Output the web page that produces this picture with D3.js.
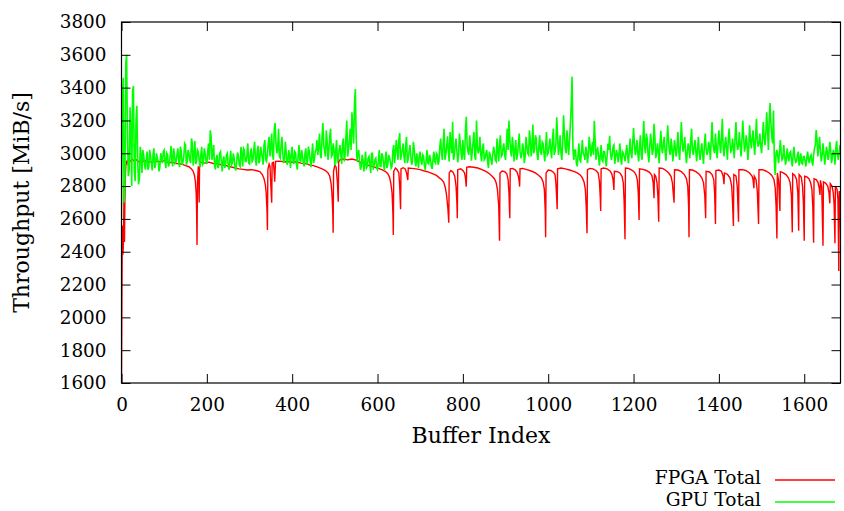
<!DOCTYPE html>
<html>
<head>
<meta charset="utf-8">
<script src="https://cdn.jsdelivr.net/npm/d3@7"></script>
<style>
  body { margin: 0; background: #fff; }
  text { font-family: "DejaVu Serif", serif; fill: #000; }
</style>
</head>
<body>
<div id="chart"></div>
<script>
// FPGA throughput (buffer index, MiB/s)
const fpgaIndex = [
  0, 1, 2, 3, 4, 5, 6, 7, 8, 9, 10, 12, 14, 16, 20, 25, 30, 35, 40, 45, 50, 60, 70, 80, 90, 100,
  110, 120, 130, 140, 150, 158, 164, 168, 171, 173, 175, 176, 177, 178, 180, 181, 182, 183, 186,
  195, 205, 215, 225, 235, 245, 255, 265, 275, 285, 295, 305, 315, 324, 330, 334, 337, 339, 341,
  342, 343, 346, 348, 350, 352, 353, 356, 358, 359, 361, 370, 380, 390, 400, 410, 420, 430, 440,
  450, 460, 470, 478, 484, 488, 491, 493, 495, 496, 497, 500, 503, 506, 508, 509, 513, 520, 530,
  540, 550, 560, 570, 580, 590, 600, 610, 618, 624, 628, 631, 634, 636, 637, 638, 642, 646, 650,
  652, 654, 655, 660, 665, 668, 670, 671, 672, 680, 690, 700, 710, 720, 730, 738, 745, 750, 755,
  759, 762, 765, 767, 768, 772, 777, 781, 784, 786, 787, 788, 795, 800, 804, 806, 808, 809, 815,
  825, 835, 845, 855, 862, 868, 874, 878, 881, 884, 886, 887, 892, 898, 903, 906, 908, 910, 911,
  916, 922, 927, 930, 932, 933, 934, 940, 950, 960, 970, 978, 984, 988, 991, 993, 994, 995, 1000,
  1006, 1012, 1016, 1018, 1020, 1021, 1022, 1030, 1040, 1050, 1060, 1068, 1075, 1080, 1084, 1087,
  1089, 1091, 1092, 1098, 1105, 1112, 1117, 1120, 1122, 1123, 1124, 1130, 1138, 1145, 1149, 1152,
  1154, 1155, 1162, 1168, 1173, 1176, 1178, 1180, 1181, 1188, 1196, 1202, 1206, 1209, 1211, 1213,
  1214, 1222, 1230, 1238, 1243, 1246, 1248, 1249, 1252, 1255, 1257, 1259, 1260, 1268, 1276, 1283,
  1288, 1291, 1293, 1295, 1296, 1304, 1312, 1319, 1324, 1327, 1329, 1330, 1331, 1338, 1346, 1354,
  1360, 1364, 1367, 1369, 1370, 1378, 1384, 1388, 1390, 1392, 1393, 1400, 1406, 1410, 1412, 1413,
  1420, 1426, 1430, 1432, 1434, 1435, 1440, 1443, 1446, 1447, 1455, 1463, 1472, 1478, 1480, 1482,
  1483, 1487, 1490, 1493, 1494, 1502, 1510, 1518, 1524, 1529, 1532, 1534, 1536, 1537, 1540, 1543,
  1544, 1550, 1557, 1563, 1567, 1570, 1572, 1573, 1578, 1582, 1585, 1587, 1588, 1593, 1596, 1598,
  1600, 1601, 1606, 1611, 1615, 1618, 1620, 1622, 1623, 1628, 1632, 1635, 1637, 1638, 1641, 1644,
  1645, 1650, 1655, 1658, 1660, 1661, 1665, 1668, 1670, 1672, 1673, 1677, 1679, 1681, 1682, 1684,
  1686, 1688
];
const fpgaMiB = [
  1600, 2150, 2560, 2380, 2420, 2520, 2830, 2460, 2720, 2850, 2920, 2955, 2940, 2960, 2950, 2965,
  2952, 2960, 2948, 2958, 2950, 2955, 2945, 2952, 2948, 2955, 2942, 2945, 2938, 2935, 2925, 2918,
  2905, 2890, 2865, 2830, 2760, 2650, 2441, 2820, 2920, 2860, 2700, 2930, 2945, 2940, 2946, 2938,
  2935, 2930, 2925, 2918, 2912, 2905, 2902, 2898, 2900, 2895, 2888, 2870, 2845, 2810, 2760, 2650,
  2533, 2900, 2935, 2920, 2800, 2699, 2940, 2945, 2880, 2827, 2950, 2952, 2948, 2950, 2945, 2948,
  2940, 2938, 2930, 2925, 2915, 2905, 2895, 2880, 2860, 2820, 2760, 2650, 2516, 2890, 2930, 2915,
  2820, 2705, 2950, 2962, 2965, 2960, 2965, 2958, 2945, 2935, 2925, 2918, 2910, 2900, 2890, 2875,
  2855, 2820, 2760, 2640, 2502, 2890, 2910, 2900, 2880, 2800, 2659, 2905, 2912, 2905, 2880, 2850,
  2837, 2910, 2908, 2905, 2900, 2892, 2885, 2875, 2865, 2850, 2840, 2825, 2790, 2740, 2660, 2577,
  2880, 2895, 2885, 2860, 2800, 2700, 2604, 2900, 2905, 2895, 2880, 2850, 2797, 2915, 2918, 2915,
  2910, 2900, 2888, 2875, 2862, 2845, 2820, 2780, 2680, 2467, 2880, 2892, 2888, 2875, 2840, 2760,
  2604, 2905, 2908, 2900, 2885, 2860, 2830, 2797, 2905, 2908, 2900, 2892, 2880, 2865, 2850, 2825,
  2780, 2650, 2488, 2880, 2898, 2895, 2885, 2870, 2820, 2720, 2659, 2905, 2910, 2905, 2898, 2890,
  2880, 2868, 2850, 2825, 2780, 2680, 2512, 2900, 2908, 2905, 2895, 2880, 2830, 2730, 2648, 2905,
  2910, 2905, 2892, 2875, 2840, 2776, 2890, 2888, 2880, 2860, 2820, 2700, 2476, 2910, 2908, 2898,
  2885, 2868, 2835, 2760, 2593, 2905, 2902, 2895, 2882, 2865, 2820, 2726, 2870, 2860, 2820, 2740,
  2583, 2910, 2908, 2895, 2878, 2858, 2820, 2760, 2699, 2900, 2898, 2888, 2870, 2845, 2800, 2680,
  2488, 2900, 2898, 2888, 2872, 2850, 2820, 2740, 2604, 2890, 2886, 2870, 2840, 2760, 2569, 2895,
  2898, 2890, 2860, 2811, 2880, 2872, 2850, 2800, 2700, 2557, 2870, 2862, 2800, 2583, 2900, 2900,
  2895, 2880, 2860, 2840, 2787, 2860, 2840, 2770, 2569, 2900, 2900, 2892, 2880, 2865, 2840, 2790,
  2680, 2480, 2880, 2830, 2648, 2888, 2882, 2870, 2850, 2820, 2740, 2518, 2875, 2865, 2840, 2760,
  2528, 2870, 2855, 2800, 2700, 2467, 2860, 2856, 2845, 2820, 2780, 2680, 2455, 2845, 2840, 2825,
  2790, 2746, 2835, 2790, 2437, 2825, 2818, 2800, 2760, 2695, 2815, 2800, 2760, 2690, 2451, 2800,
  2780, 2720, 2283, 2770, 2720, 2421, 2740
];

// GPU throughput, readings at buffers 0, 4, 8, ... and 2, 6, 10, ...
const gpuStep = 4;
const gpuMiBEven = [
  2600, 3460, 2790, 3600, 2860, 3280, 2800, 3410, 2830, 3290, 2810, 3040, 2880, 2990, 2900, 3010, 2920, 2985, 2895, 3030, 2930, 2970, 2890, 3000, 2940,
  3020, 2910, 2990, 2935, 3045, 2920, 3000, 2950, 3030, 2915, 3010, 2945, 3060, 2930, 3020, 2960, 3090, 2925, 3075, 2950, 3010, 2915, 3040, 2940, 3000,
  2935, 3060, 3140, 2960, 3050, 2900, 2990, 2925, 3010, 2890, 2980, 2935, 3000, 2900, 3015, 2940, 2970, 2895, 3005, 2930, 3040, 2920, 3020, 2950, 3060,
  2935, 3030, 2960, 3070, 2925, 3045, 2955, 3010, 2930, 3080, 2950, 3060, 2980, 3120, 2960, 3184, 3000, 3150, 2970, 3100, 2940, 3070, 2930, 3020, 2910,
  3040, 2935, 3000, 2900, 3050, 2945, 2990, 2920, 3030, 2950, 3010, 2915, 3060, 2960, 3020, 2990, 3120, 2970, 3184, 3010, 3140, 2960, 3100, 2980, 3060,
  2925, 3080, 2960, 3050, 2935, 3090, 2990, 3200, 3020, 3150, 3250, 3060, 3392, 2950, 3020, 2900, 2990, 2890, 3010, 2920, 2980, 2880, 3000, 2930, 2970,
  2900, 3020, 2920, 2985, 2895, 3010, 2930, 2975, 2910, 3020, 2940, 3080, 2960, 3123, 2990, 3060, 2940, 3100, 2970, 3050, 2930, 3070, 2950, 3000, 2910,
  3010, 2930, 2980, 2900, 3020, 2935, 2970, 2905, 3010, 2940, 2990, 2950, 3090, 2960, 3150, 2990, 3104, 2950, 3060, 3192, 2980, 3090, 2945, 3120, 3000,
  3080, 2960, 3222, 3010, 3110, 2955, 3070, 2980, 3200, 3000, 3100, 2950, 3060, 2970, 3020, 2910, 2990, 2930, 3040, 2960, 3090, 2950, 3110, 2990, 3060,
  2960, 3150, 3200, 3010, 3100, 2950, 3080, 2990, 3120, 2970, 3060, 2940, 3100, 3000, 3140, 2980, 3175, 3020, 3090, 2960, 3110, 2990, 3060, 2950, 3130,
  3000, 3090, 2970, 3150, 3010, 3220, 2990, 3110, 2960, 3232, 3030, 3140, 2990, 3180, 3467, 2960, 3020, 2920, 3060, 2950, 3080, 2990, 3040, 2940, 3100,
  2980, 3070, 3198, 2960, 3030, 2925, 3050, 2950, 3010, 2920, 3060, 3106, 2960, 3040, 2935, 3020, 2945, 3060, 2930, 3000, 2950, 3050, 2940, 3090, 2970,
  3154, 2990, 3080, 2950, 3110, 2960, 3196, 3000, 3090, 2945, 3120, 2990, 3180, 2970, 3060, 2940, 3137, 3000, 3100, 2955, 3170, 3010, 3090, 2950, 3080,
  2980, 3130, 2960, 3190, 3010, 3100, 2940, 3060, 2970, 3150, 2990, 3080, 2950, 3100, 2960, 3060, 2935, 3120, 2990, 3070, 2960, 3190, 3020, 3120, 2970,
  3140, 3000, 3210, 2980, 3100, 2960, 3150, 3010, 3090, 2970, 3190, 3020, 3130, 2980, 3200, 3010, 3110, 2960, 3170, 3030, 3140, 2990, 3210, 3040, 3120,
  3000, 3190, 3050, 3250, 3020, 3306, 3100, 3260, 2868, 3020, 2940, 3080, 2960, 3050, 2930, 3030, 2950, 3010, 2920, 3040, 2945, 2990, 2925, 3000, 2935,
  2980, 2920, 3010, 2940, 2990, 2925, 3030, 3142, 2980, 3100, 2950, 3060, 2930, 3040, 2960, 3070, 2940, 3020, 2930, 3075, 2960, 3050, 2990
];
const gpuMiBOdd = [
  3300, 2700, 3550, 3100, 2900, 3150, 3380, 2900, 3200, 2950, 2850, 2980, 3020, 2930, 2960, 2900, 3020, 2940, 2990, 2910, 3000, 2950, 2920, 2975, 3010,
  2950, 3000, 2920, 2980, 2960, 3030, 2940, 2990, 2960, 3040, 2930, 2980, 3050, 2950, 3000, 2940, 3060, 2990, 2935, 3020, 2960, 2990, 2930, 3030, 2955,
  3010, 2960, 3100, 3000, 2930, 2970, 2910, 3000, 2950, 2960, 2910, 2990, 2920, 2960, 2930, 3000, 2910, 2950, 2980, 2920, 2990, 3030, 2950, 2990, 2940,
  3000, 2950, 3020, 2960, 3010, 2940, 3040, 2970, 3050, 2960, 3000, 3100, 3040, 2990, 3150, 3060, 3020, 2980, 3050, 3000, 2960, 3010, 2950, 2980, 3000,
  2950, 3010, 2930, 2990, 2960, 3020, 2940, 3000, 2930, 3040, 2960, 2990, 2940, 3010, 3080, 3040, 2990, 3100, 3050, 2980, 3070, 3020, 3150, 2990, 3020,
  3010, 2950, 3020, 2990, 3060, 2950, 3100, 2980, 3080, 3020, 3160, 3300, 3100, 3000, 2950, 2920, 2960, 2940, 2910, 2970, 2930, 3000, 2900, 2960, 2910,
  2950, 2920, 3000, 2940, 2960, 2910, 2990, 2950, 2920, 3050, 3000, 3020, 3080, 2960, 3020, 2980, 3050, 2940, 3010, 2980, 2950, 3030, 2920, 2960, 2990,
  2950, 2990, 2920, 2960, 2940, 2990, 2920, 2960, 2950, 3000, 2930, 3040, 3000, 3060, 2960, 3040, 3010, 3130, 3000, 2960, 3050, 3010, 2990, 3060, 2960,
  3000, 3140, 3050, 2990, 3050, 3010, 3130, 2960, 3040, 3020, 2990, 3030, 2960, 3000, 2950, 3010, 2960, 2990, 3010, 2950, 3020, 3060, 2980, 3030, 2990,
  3050, 3020, 3090, 2980, 3040, 3020, 2960, 3050, 3010, 2990, 3030, 2980, 3050, 2990, 3080, 3040, 3000, 3110, 2990, 3040, 3010, 3070, 3000, 3040, 2990,
  3040, 3020, 3080, 2990, 3060, 3100, 3040, 3000, 3060, 3120, 3000, 3060, 3080, 3300, 3020, 3020, 2940, 2990, 2960, 3010, 3000, 2960, 3010, 2990, 3050,
  3030, 2990, 3080, 3020, 2980, 2990, 2960, 3010, 2970, 2980, 3020, 3000, 2990, 3050, 2980, 2990, 3000, 2970, 3010, 2980, 3000, 2990, 3010, 3000, 3060,
  3060, 3020, 3000, 3040, 2990, 3080, 3040, 3120, 2990, 3040, 3060, 3020, 3100, 3000, 3010, 3060, 3030, 3060, 3010, 3050, 3080, 2990, 3040, 3010, 3030,
  3040, 3010, 3060, 3080, 3040, 3000, 3010, 3030, 3080, 3020, 3040, 3010, 3030, 3000, 3020, 2990, 3050, 3030, 3010, 3040, 3080, 3060, 3000, 3030, 3060,
  3060, 3090, 3040, 3050, 3030, 3080, 3060, 3020, 3040, 3100, 3060, 3050, 3040, 3080, 3100, 3040, 3060, 3030, 3080, 3090, 3050, 3100, 3080, 3060, 3050,
  3080, 3100, 3120, 3150, 3200, 3180, 3060, 2950, 3000, 2980, 3010, 3000, 2970, 2990, 2960, 2980, 3000, 2960, 2990, 2970, 2950, 3010, 2960, 2940, 2980,
  2950, 2970, 2960, 2980, 2950, 2990, 3050, 3080, 3040, 3010, 2990, 3000, 2980, 3010, 2990, 3020, 2980, 3000, 3030, 2990, 3010, 3030
];

const yTicks = [1600, 1800, 2000, 2200, 2400, 2600, 2800, 3000, 3200, 3400, 3600, 3800];
const xTicks = [0, 200, 400, 600, 800, 1000, 1200, 1400, 1600];
const seriesNames = ["FPGA Total", "GPU Total"];
const seriesColors = ["#ff0000", "#00ff00"];
const seriesWidths = [1.4, 1.6];

const width = 844;
const height = 511;
const plot = { left: 121.5, right: 840.5, top: 22, bottom: 383 };
const tickLen = 9;

const fpga = fpgaIndex.map((x, i) => [x, fpgaMiB[i]]);
const gpu = gpuMiBEven
  .map((v, i) => [i * gpuStep, v])
  .concat(gpuMiBOdd.map((v, i) => [i * gpuStep + gpuStep / 2, v]))
  .sort((a, b) => a[0] - b[0]);

const x = d3.scaleLinear().domain([0, 1685]).range([plot.left, plot.right]);
const y = d3.scaleLinear().domain([1600, 3800]).range([plot.bottom, plot.top]);

const svg = d3
  .select("#chart")
  .append("svg")
  .attr("width", width)
  .attr("height", height);

svg
  .append("clipPath")
  .attr("id", "clip")
  .append("rect")
  .attr("x", plot.left)
  .attr("y", plot.top)
  .attr("width", plot.right - plot.left)
  .attr("height", plot.bottom - plot.top);

const line = d3
  .line()
  .x((d) => x(d[0]))
  .y((d) => y(d[1]));

const lines = svg.append("g").attr("clip-path", "url(#clip)");
[fpga, gpu].forEach((data, i) => {
  lines
    .append("path")
    .attr("d", line(data))
    .attr("fill", "none")
    .attr("stroke", seriesColors[i])
    .attr("stroke-width", seriesWidths[i])
    .attr("stroke-linejoin", "miter");
});

// axes: gnuplot style, ticks inward on all four sides
const axisStyle = (g) => {
  g.select(".domain").remove();
  g.selectAll(".tick line").attr("stroke", "#000");
  g.selectAll(".tick text").style("font-size", "18.4px").style("font-family", "DejaVu Serif");
};

svg
  .append("g")
  .attr("transform", `translate(0,${plot.bottom})`)
  .call(d3.axisBottom(x).tickValues(xTicks).tickFormat(d3.format("d")).tickSizeInner(-tickLen).tickSizeOuter(0).tickPadding(15))
  .call(axisStyle);

svg
  .append("g")
  .attr("transform", `translate(0,${plot.top})`)
  .call(d3.axisTop(x).tickValues(xTicks).tickSizeInner(-tickLen).tickSizeOuter(0).tickFormat(""))
  .call(axisStyle);

svg
  .append("g")
  .attr("transform", `translate(${plot.left},0)`)
  .call(d3.axisLeft(y).tickValues(yTicks).tickFormat(d3.format("d")).tickSizeInner(-tickLen).tickSizeOuter(0).tickPadding(15))
  .call(axisStyle);

svg
  .append("g")
  .attr("transform", `translate(${plot.right},0)`)
  .call(d3.axisRight(y).tickValues(yTicks).tickSizeInner(-tickLen).tickSizeOuter(0).tickFormat(""))
  .call(axisStyle);

svg
  .append("rect")
  .attr("x", plot.left)
  .attr("y", plot.top)
  .attr("width", plot.right - plot.left)
  .attr("height", plot.bottom - plot.top)
  .attr("fill", "none")
  .attr("stroke", "#000")
  .attr("stroke-width", 1.2);

svg
  .append("text")
  .attr("x", (plot.left + plot.right) / 2)
  .attr("y", 443)
  .attr("text-anchor", "middle")
  .style("font-size", "22px")
  .text("Buffer Index");

svg
  .append("text")
  .attr("transform", `translate(29,${(plot.top + plot.bottom) / 2}) rotate(-90)`)
  .attr("text-anchor", "middle")
  .style("font-size", "22px")
  .text("Throughput [MiB/s]");

// legend below the plot, right side
const legend = svg
  .selectAll(".legend")
  .data(seriesNames)
  .join("g")
  .attr("class", "legend")
  .attr("transform", (d, i) => `translate(0,${484 + i * 22})`);

legend
  .append("text")
  .attr("x", 761)
  .attr("text-anchor", "end")
  .style("font-size", "18.6px")
  .text((d) => d);

legend
  .append("line")
  .attr("x1", 775)
  .attr("x2", 835)
  .attr("y1", -4)
  .attr("y2", -4)
  .attr("stroke", (d, i) => seriesColors[i])
  .attr("stroke-width", 1.3);
</script>
</body>
</html>
